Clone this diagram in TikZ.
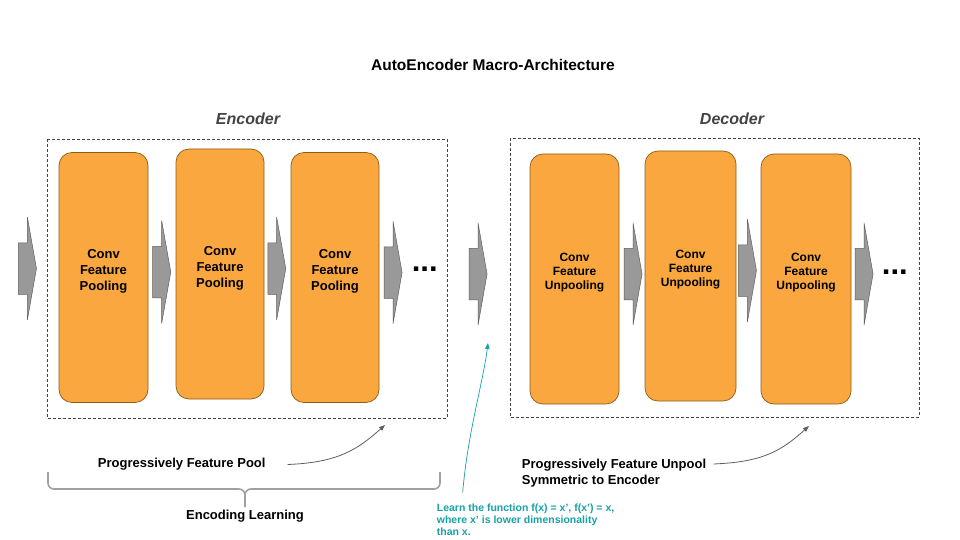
\documentclass[tikz,border=0pt]{standalone}
\usepackage{fontspec}
\setmainfont{Liberation Sans}
\usepackage{tikz}
\usetikzlibrary{positioning,shapes.arrows,arrows.meta}
\definecolor{stagefill}{HTML}{F9A73E}
\definecolor{stageedge}{HTML}{8B5E1A}
\definecolor{flowfill}{HTML}{999999}
\definecolor{flowedge}{HTML}{5F5F5F}
\definecolor{labelgray}{HTML}{434343}
\definecolor{learnteal}{HTML}{17A2A6}
\definecolor{bracegray}{HTML}{A0A0A0}

\tikzset{
  stage/.style={draw=stageedge, fill=stagefill, line width=0.7pt, rounded corners=13pt,
    minimum width=89pt, minimum height=250pt, inner sep=0pt},
  enctext/.style={align=center, inner sep=0pt, font=\bfseries\fontsize{13pt}{16pt}\selectfont},
  dectext/.style={align=center, inner sep=0pt, font=\bfseries\fontsize{12pt}{14pt}\selectfont},
  flow/.style={single arrow, draw=flowedge, fill=flowfill, line width=0.5pt, inner sep=0pt,
    text height=25.5pt, text depth=25.5pt, minimum width=0pt, minimum height=18pt,
    single arrow head extend=25.5pt, single arrow tip angle=160, anchor=tip},
  dots/.style={inner sep=0pt, font=\bfseries\fontsize{31pt}{31pt}\selectfont},
  frame/.style={draw=labelgray, line width=0.6pt, dash pattern=on 3pt off 2pt},
  section/.style={inner sep=0pt, text=labelgray, font=\bfseries\itshape\fontsize{16pt}{19pt}\selectfont},
  note/.style={inner sep=0pt, align=left, font=\bfseries\fontsize{13pt}{16.5pt}\selectfont},
  pointer/.style={draw=flowedge, line width=0.8pt, -{Triangle[length=6pt,width=4.5pt]}},
}

\begin{document}
\begin{tikzpicture}[x=1pt, y=-1pt]
  \useasboundingbox[fill=white] (0,0) rectangle (960,540);

  % Title
  \node[inner sep=0pt, font=\bfseries\fontsize{15.5pt}{18pt}\selectfont] (title) at (493,65) {AutoEncoder Macro-Architecture};

  % Section labels and dashed frames
  \node[section] (enclbl) at (248,119) {Encoder};
  \node[section] (declbl) at (732,119) {Decoder};
  \draw[frame] (47,139) rectangle (447,418);
  \draw[frame] (510,138) rectangle (919,417);

  % Encoder stages
  \node[stage] (e1) at (103.5,277.5) {};
  \node[stage, minimum width=88pt] (e2) at (220,274) {};
  \node[stage, minimum width=88pt] (e3) at (335,277.5) {};
  \node[enctext] (e1t) at ([yshift=6pt]e1.center) {Conv\\Feature\\Pooling};
  \node[enctext] (e2t) at ([yshift=6pt]e2.center) {Conv\\Feature\\Pooling};
  \node[enctext] (e3t) at ([yshift=6pt]e3.center) {Conv\\Feature\\Pooling};

  % Decoder stages
  \node[stage] (d1) at (574.5,279) {};
  \node[stage, minimum width=91pt] (d2) at (690.5,276) {};
  \node[stage, minimum width=90pt] (d3) at (806,279) {};
  \node[dectext] (d1t) at ([yshift=6pt]d1.center) {Conv\\Feature\\Unpooling};
  \node[dectext] (d2t) at ([yshift=6pt]d2.center) {Conv\\Feature\\Unpooling};
  \node[dectext] (d3t) at ([yshift=6pt]d3.center) {Conv\\Feature\\Unpooling};

  % Block arrows between stages
  \node[flow] (a0) at (36.7,268.5) {};
  \node[flow] (a1) at (171,272) {};
  \node[flow] (a2) at (286,268.5) {};
  \node[flow] (a3) at (402.3,272.5) {};
  \node[flow] (am) at (487.3,274) {};
  \node[flow] (b1) at (642.3,274) {};
  \node[flow] (b2) at (756.7,270.5) {};
  \node[flow] (b3) at (873.3,274) {};
  \node[dots] (edots) at (424.7,269.3) {...};
  \node[dots] (ddots) at (894.8,271.7) {...};

  % Notes under the encoder
  \node[note, anchor=west] (poolnote) at (97.7,464.5) {Progressively Feature Pool};
  \coordinate (poolend) at (385,425);
  \draw[pointer] ([xshift=22pt]poolnote.east) .. controls +(50,-2) and +(-28,25) .. (poolend);
  \draw[bracegray, line width=1.6pt, rounded corners=6pt] (48,472) -- (48,489) -- (245,489) -- (245,507);
  \draw[bracegray, line width=1.6pt, rounded corners=6pt] (440,472) -- (440,489) -- (245,489) -- (245,507);
  \node[note] (enclearn) at (245,516) {Encoding Learning};

  % Notes under the decoder
  \node[note, anchor=north west] (unpoolnote) at (521.7,458.5) {Progressively Feature Unpool\\Symmetric to Encoder};
  \coordinate (unpoolend) at (809,426);
  \draw[pointer] ([xshift=7pt,yshift=-5.5pt]unpoolnote.north east) .. controls +(50,-2) and +(-28,25) .. (unpoolend);

  % Note on the code in the middle
  \node[note, text=learnteal, font=\bfseries\fontsize{10.5pt}{12.2pt}\selectfont, anchor=north west] (learnnote) at (436.7,503.4)
    {Learn the function f(x) = x’, f(x’) = x,\\where x’ is lower dimensionality\\than x.};
  \coordinate (learnend) at (488,343);
  \draw[pointer, draw=learnteal, line width=0.7pt] ([xshift=26pt,yshift=11pt]learnnote.north west) .. controls +(5,-60) and +(-5,40) .. (learnend);
\end{tikzpicture}
\end{document}
